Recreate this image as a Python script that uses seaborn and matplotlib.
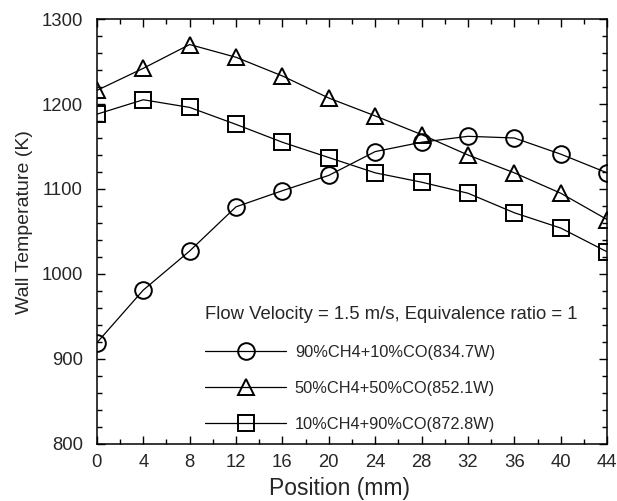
import matplotlib
matplotlib.use("Agg")
import matplotlib.pyplot as plt
from matplotlib.ticker import MultipleLocator
import seaborn as sns
import pandas as pd

position = [0, 4, 8, 12, 16, 20, 24, 28, 32, 36, 40, 44]
t_90ch4 = [919, 981, 1027, 1079, 1098, 1116, 1144, 1155, 1162, 1160, 1141, 1119]
t_50ch4 = [1216, 1242, 1270, 1255, 1233, 1207, 1186, 1164, 1140, 1119, 1095, 1064]
t_10ch4 = [1188, 1205, 1196, 1176, 1155, 1137, 1119, 1108, 1095, 1072, 1054, 1026]
labels = ["90%CH4+10%CO(834.7W)", "50%CH4+50%CO(852.1W)", "10%CH4+90%CO(872.8W)"]
markers = ["o", "^", "s"]
legend_title = "Flow Velocity = 1.5 m/s, Equivalence ratio = 1"

sns.set_theme(style="ticks")
plt.rcParams["font.family"] = ["Liberation Sans", "DejaVu Sans"]

fig = plt.figure(figsize=(6.17, 5.01), dpi=100)
ax = fig.add_axes([0.157, 0.114, 0.827, 0.848])

series = [t_90ch4, t_50ch4, t_10ch4]
for vals, lab, mk in zip(series, labels, markers):
    df = pd.DataFrame({"Position": position, "T": vals})
    sns.lineplot(data=df, x="Position", y="T", ax=ax, color="black", linewidth=0.9,
                 marker=mk, markersize=12 if mk != "^" else 11, markerfacecolor="none",
                 markeredgecolor="black", markeredgewidth=1.4, label=lab)

ax.set_xlim(0, 44)
ax.set_ylim(800, 1300)
ax.xaxis.set_major_locator(MultipleLocator(4))
ax.xaxis.set_minor_locator(MultipleLocator(2))
ax.yaxis.set_major_locator(MultipleLocator(100))
ax.yaxis.set_minor_locator(MultipleLocator(20))
ax.tick_params(which="both", direction="in", top=True, right=True, labelsize=13.3, width=1, color="black")
ax.tick_params(which="major", length=6, pad=7)
ax.tick_params(which="minor", length=3.5)
ax.tick_params(axis="y", which="major", pad=10)
for s in ax.spines.values():
    s.set_linewidth(1.1)
    s.set_color("black")
ax.set_xlabel("Position (mm)", fontsize=16.5)
ax.set_ylabel("Wall Temperature (K)", fontsize=14)
ax.xaxis.set_label_coords(0.475, -0.079)
ax.yaxis.set_label_coords(-0.125, 0.522)

leg = ax.legend(title=legend_title, loc="lower left", bbox_to_anchor=(0.2, 0.012),
                frameon=False, fontsize=11.8, title_fontsize=13.3, handlelength=4.9,
                labelspacing=1.3, handletextpad=0.55, alignment="left", borderaxespad=0)

fig.savefig("out.png", dpi=100)
